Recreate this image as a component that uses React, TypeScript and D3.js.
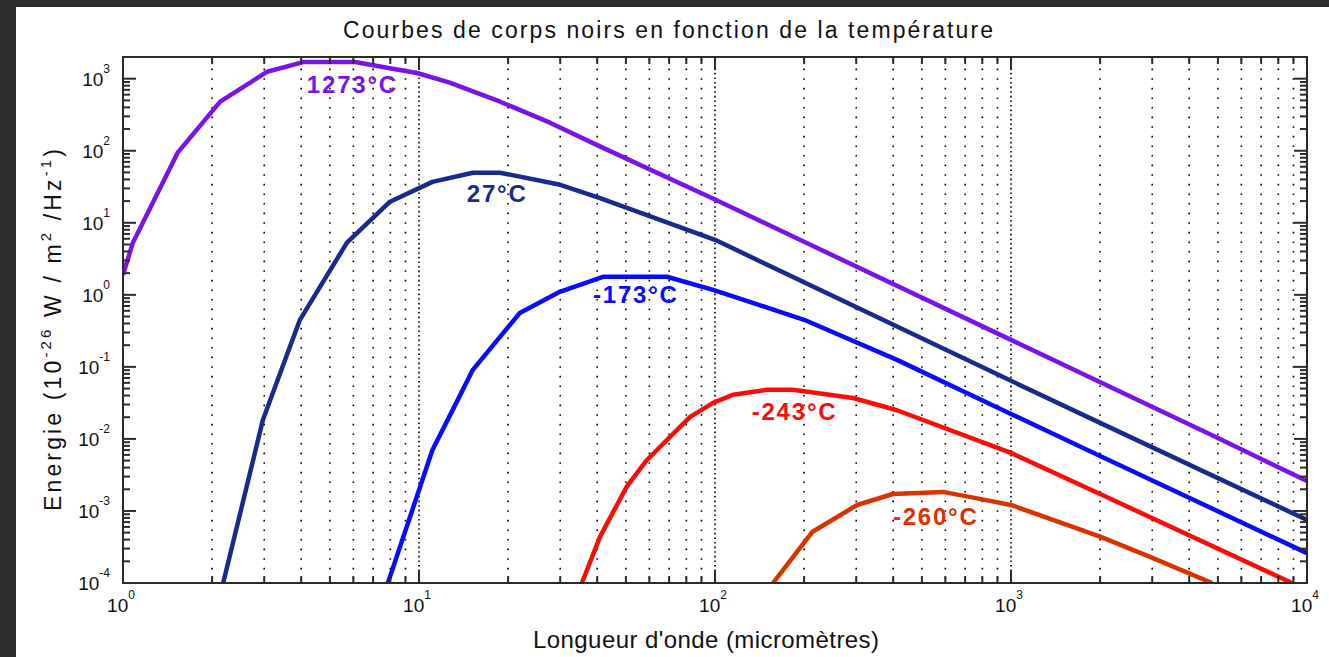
import React from "react";
import * as d3 from "d3";

const titleText = "Courbes de corps noirs en fonction de la température";
const xLabelText = "Longueur d'onde (micromètres)";

// Wavelength (µm) / energy (1e-26 W/m²/Hz)
const lambda1273 = [1, 1.08, 1.53, 2.13, 3.07, 4.06, 6.08, 7.8, 9.85, 12.7, 18.8, 27.7, 41, 100, 200, 1000, 5000, 10000];
const energy1273 = [1.9, 5.3, 94, 480, 1250, 1700, 1700, 1420, 1200, 880, 479, 245, 114, 21, 5.45, 0.237, 0.0103, 0.0026];

const lambda27 = [2.18, 2.97, 3.96, 5.71, 7.98, 11.1, 15.2, 18.8, 30, 40.9, 100, 1000, 2000, 10000];
const energy27 = [0.0001, 0.0184, 0.45, 5.3, 19.6, 37, 49.5, 49.5, 33.7, 22, 5.8, 0.064, 0.0167, 0.00075];

const lambdaM173 = [7.85, 11.1, 13.0, 15.2, 21.9, 29.9, 41.8, 68.8, 98.5, 131, 200, 412, 1000, 2000, 10000];
const energyM173 = [0.0001, 0.007, 0.0253, 0.091, 0.56, 1.1, 1.78, 1.78, 1.17, 0.8, 0.45, 0.125, 0.0222, 0.0058, 0.00026];

const lambdaM243 = [35.5, 40.9, 50.4, 58.9, 82.4, 98.5, 115, 150, 183, 293, 412, 1000, 2000, 8900];
const energyM243 = [0.0001, 0.00044, 0.0022, 0.0051, 0.0202, 0.0316, 0.041, 0.048, 0.048, 0.037, 0.025, 0.0064, 0.00172, 0.0001];

const lambdaM260 = [157, 213, 302, 399, 589, 785, 1000, 2000, 2950, 4777];
const energyM260 = [0.0001, 0.00051, 0.00121, 0.00172, 0.00184, 0.00147, 0.00121, 0.00044, 0.00023, 0.0001];

const seriesNames = ["1273°C", "27°C", "-173°C", "-243°C", "-260°C"];
const seriesColors = ["#7a14e6", "#1a2a8c", "#0a0aff", "#ff0a0a", "#d93300"];
const labelLambda = [4.18, 14.5, 38.7, 133, 399];
const labelEnergy = [640, 19.6, 0.774, 0.0184, 0.00064];

const xTickExps = [0, 1, 2, 3, 4];
const yTickExps = [-4, -3, -2, -1, 0, 1, 2, 3];
const minorMultipliers = [2, 3, 4, 5, 6, 7, 8, 9];

const W = 1329;
const H = 657;
const left = 123, right = 1307, top = 57, bottom = 583;
const FONT = "'Liberation Sans', Arial, Helvetica, sans-serif";

export default function App() {
  const x = d3.scaleLog().domain([1, 1e4]).range([left, right]);
  const y = d3.scaleLog().domain([1e-4, 2000]).range([bottom, top]);

  const series = [
    { l: lambda1273, e: energy1273 },
    { l: lambda27, e: energy27 },
    { l: lambdaM173, e: energyM173 },
    { l: lambdaM243, e: energyM243 },
    { l: lambdaM260, e: energyM260 },
  ];

  const line = d3
    .line<[number, number]>()
    .x((d) => x(d[0]))
    .y((d) => y(d[1]));

  const minorX: number[] = [];
  for (let d = 0; d < 4; d++) for (const m of minorMultipliers) minorX.push(m * Math.pow(10, d));
  const decadeGridX = [10, 100, 1000];
  const majorX = xTickExps.map((e) => Math.pow(10, e));

  const minorY: number[] = [];
  for (let e = -4; e < 3; e++) for (const m of minorMultipliers) minorY.push(m * Math.pow(10, e));
  minorY.push(2000);
  const majorY = yTickExps.map((e) => Math.pow(10, e));

  const axisColor = "#2a2a2a";
  const majLen = 13, minLen = 7;

  return (
    <svg width={W} height={H} style={{ position: "absolute", left: 0, top: 0, display: "block" }}>
      <defs>
        <clipPath id="plotclip">
          <rect x={left} y={top} width={right - left} height={bottom - top} />
        </clipPath>
      </defs>
      <rect x={0} y={0} width={W} height={H} fill="#2d2d2d" />
      <rect x={16} y={7} width={W - 16} height={H - 7} fill="#ffffff" />

      {/* grid */}
      <g>
        {minorX.map((v, i) => (
          <line key={"gx" + i} x1={x(v)} x2={x(v)} y1={top + 2} y2={bottom} stroke="#000" strokeWidth={1.6} strokeDasharray="1.6 8" />
        ))}
        {decadeGridX.map((v, i) => (
          <line key={"gd" + i} x1={x(v)} x2={x(v)} y1={top + 2} y2={bottom} stroke="#000" strokeWidth={1.6} strokeDasharray="1.6 3" />
        ))}
      </g>

      {/* curves */}
      <g clipPath="url(#plotclip)">
        {series.map((s, i) => (
          <path
            key={"s" + i}
            d={line(s.l.map((l, j) => [l, s.e[j]] as [number, number])) || ""}
            fill="none"
            stroke={seriesColors[i]}
            strokeWidth={4.5}
            strokeLinejoin="round"
            strokeLinecap="butt"
          />
        ))}
      </g>

      {/* series labels */}
      {seriesNames.map((n, i) => (
        <text
          key={"lab" + i}
          x={x(labelLambda[i])}
          y={y(labelEnergy[i])}
          fill={seriesColors[i]}
          fontFamily={FONT}
          fontWeight="bold"
          fontSize={24}
          letterSpacing={1.8}
        >
          {n}
        </text>
      ))}

      {/* frame */}
      <rect x={left} y={top} width={right - left} height={bottom - top} fill="none" stroke={axisColor} strokeWidth={2} />

      {/* x ticks */}
      {minorX.map((v, i) => (
        <g key={"tx" + i}>
          <line x1={x(v)} x2={x(v)} y1={bottom} y2={bottom - minLen} stroke={axisColor} strokeWidth={2} />
          <line x1={x(v)} x2={x(v)} y1={top} y2={top + minLen} stroke={axisColor} strokeWidth={2} />
        </g>
      ))}
      {majorX.map((v, i) => (
        <g key={"tX" + i}>
          <line x1={x(v)} x2={x(v)} y1={bottom} y2={bottom - majLen} stroke={axisColor} strokeWidth={2} />
          <line x1={x(v)} x2={x(v)} y1={top} y2={top + majLen} stroke={axisColor} strokeWidth={2} />
        </g>
      ))}
      {/* y ticks */}
      {minorY.map((v, i) => (
        <g key={"ty" + i}>
          <line x1={left} x2={left + minLen} y1={y(v)} y2={y(v)} stroke={axisColor} strokeWidth={2} />
          <line x1={right} x2={right - minLen} y1={y(v)} y2={y(v)} stroke={axisColor} strokeWidth={2} />
        </g>
      ))}
      {majorY.map((v, i) => (
        <g key={"tY" + i}>
          <line x1={left} x2={left + majLen} y1={y(v)} y2={y(v)} stroke={axisColor} strokeWidth={2} />
          <line x1={right} x2={right - majLen} y1={y(v)} y2={y(v)} stroke={axisColor} strokeWidth={2} />
        </g>
      ))}

      {/* x tick labels */}
      {xTickExps.map((e, i) => (
        <text key={"xl" + i} x={x(Math.pow(10, e)) - 2} y={612} textAnchor="middle" fontFamily={FONT} fontSize={19} fill="#111">
          10
          <tspan fontSize={12} dy={-13}>{e}</tspan>
        </text>
      ))}
      {/* y tick labels */}
      {yTickExps.map((e, i) => (
        <text key={"yl" + i} x={110} y={y(Math.pow(10, e)) + 7} textAnchor="end" fontFamily={FONT} fontSize={19} fill="#111">
          10
          <tspan fontSize={12} dy={-13}>{e}</tspan>
        </text>
      ))}

      {/* title */}
      <text x={668} y={38} textAnchor="middle" fontFamily={FONT} fontSize={23} fill="#111" textLength={650} lengthAdjust="spacing">
        {titleText}
      </text>
      {/* x label */}
      <text x={706} y={648} textAnchor="middle" fontFamily={FONT} fontSize={24} fill="#111" textLength={346} lengthAdjust="spacing">
        {xLabelText}
      </text>
      {/* y label */}
      <text
        transform="translate(61,330) rotate(-90)"
        textAnchor="middle"
        fontFamily={FONT}
        fontSize={23}
        fill="#111"
        textLength={362}
        lengthAdjust="spacing"
      >
        Energie (10<tspan fontSize={15} dy={-10}>-26</tspan>
        <tspan dy={10}> W / m</tspan>
        <tspan fontSize={15} dy={-10}>2</tspan>
        <tspan dy={10}> /Hz</tspan>
        <tspan fontSize={15} dy={-10}>-1</tspan>
        <tspan dy={10}>)</tspan>
      </text>
    </svg>
  );
}
